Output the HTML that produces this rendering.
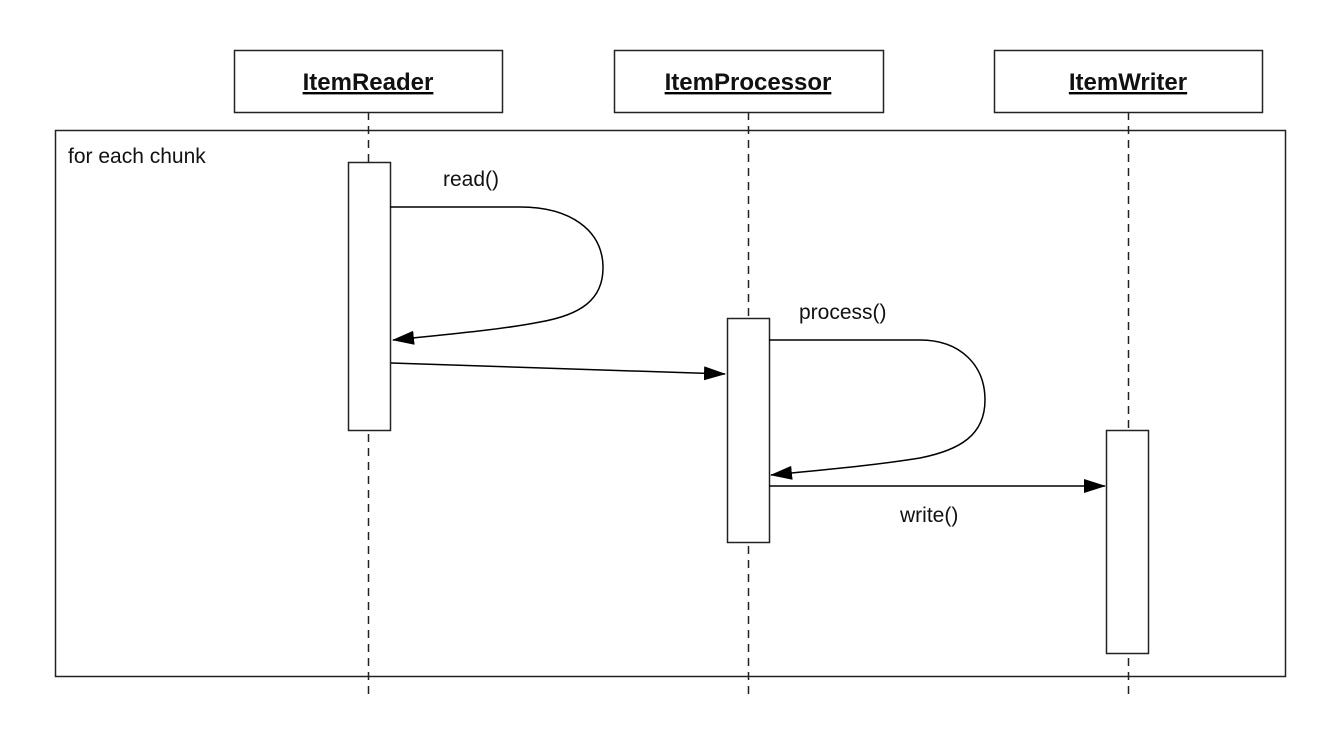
<!DOCTYPE html>
<html><head><meta charset="utf-8"><style>
html,body{margin:0;padding:0;background:#fff;}
svg{display:block;}
text{font-family:"Liberation Sans",Helvetica,Arial,sans-serif;fill:#111;}
</style></head><body>
<svg width="1340" height="740" viewBox="0 0 1340 740" xmlns="http://www.w3.org/2000/svg">
<defs>
<marker id="ah" markerWidth="12" markerHeight="10" refX="11" refY="5" orient="auto" markerUnits="userSpaceOnUse" viewBox="0 0 12 10">
<path d="M0,0 L12,5 L0,10 z" fill="#000"/>
</marker>
<marker id="ah2" markerWidth="22" markerHeight="14" refX="21" refY="7" orient="auto" markerUnits="userSpaceOnUse" viewBox="0 0 22 14">
<path d="M0,0 L22,7 L0,14 z" fill="#000"/>
</marker>
</defs>
<rect x="0" y="0" width="1340" height="740" fill="#fff"/>
<!-- frame -->
<rect x="55.5" y="130.5" width="1230" height="546" fill="none" stroke="#222" stroke-width="1.5"/>
<text x="68" y="163" font-size="21">for each chunk</text>
<!-- lifelines -->
<g stroke="#222" stroke-width="1.5" stroke-dasharray="8,6">
<line x1="368.5" y1="112" x2="368.5" y2="700"/>
<line x1="748.5" y1="112" x2="748.5" y2="700"/>
<line x1="1128.5" y1="112" x2="1128.5" y2="700"/>
</g>
<!-- heads -->
<g fill="#fff" stroke="#222" stroke-width="1.5">
<rect x="234.5" y="50.5" width="268" height="62"/>
<rect x="614.5" y="50.5" width="269" height="62"/>
<rect x="994.5" y="50.5" width="268" height="62"/>
</g>
<g font-size="24" font-weight="bold" text-anchor="middle" text-decoration="underline">
<text x="368" y="90">ItemReader</text>
<text x="748" y="90">ItemProcessor</text>
<text x="1128" y="90">ItemWriter</text>
</g>
<!-- activations -->
<g fill="#fff" stroke="#222" stroke-width="1.5">
<rect x="348.5" y="162.5" width="42" height="268"/>
<rect x="727.5" y="318.5" width="42" height="224"/>
<rect x="1106.5" y="430.5" width="42" height="223"/>
</g>
<!-- messages -->
<g fill="none" stroke="#000" stroke-width="1.5">
<path d="M390,207 L520,207 C570,207 603,230 603,268 C603,300 580,315 540,322 C500,330 440,335 393,340" marker-end="url(#ah2)"/>
<path d="M391,363 L725,374" marker-end="url(#ah2)"/>
<path d="M769,340 L920,340 C960,340 985,365 985,400 C985,435 960,450 920,458 C870,466 820,470 771,475" marker-end="url(#ah2)"/>
<path d="M769,486 L1105,486" marker-end="url(#ah2)"/>
</g>
<g font-size="21">
<text x="443" y="186">read()</text>
<text x="799" y="319">process()</text>
<text x="900" y="522">write()</text>
</g>
</svg>
</body></html>
